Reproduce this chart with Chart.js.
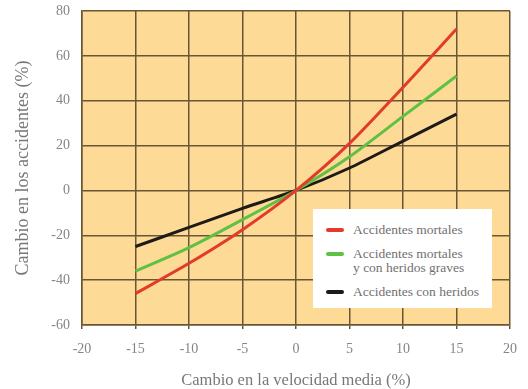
<!DOCTYPE html>
<html>
<head>
<meta charset="utf-8">
<script src="https://cdn.jsdelivr.net/npm/chart.js@4"></script>
<style>
  html, body { margin: 0; padding: 0; background: #fff; }
  #wrap { position: relative; width: 528px; height: 389px; }
  #legend {
    position: absolute; left: 313px; top: 209px; width: 179px; height: 99px;
    background: #fff; box-sizing: border-box; padding: 14px 0 0 13px;
    font-family: "Liberation Serif", serif; font-size: 13.5px; color: #707070;
  }
  .item { display: flex; align-items: flex-start; margin-bottom: 10px; line-height: 14px; }
  .swatch { width: 18px; height: 4px; border-radius: 2px; margin: 5px 9px 0 0; flex: none; }
</style>
</head>
<body>
<div id="wrap">
  <canvas id="chart" width="528" height="389"></canvas>
  <div id="legend"></div>
</div>
<script>
const speedChange = [-15, -10, -5, 0, 5, 10, 15];
const fatal = [-46, -32.5, -17.5, 0, 21, 46, 72];
const fatalSerious = [-36, -25.5, -13, 0, 15, 33, 51];
const injury = [-25, -16.5, -8, 0, 10, 22, 34];
const seriesLabels = [
  "Accidentes mortales",
  "Accidentes mortales\ny con heridos graves",
  "Accidentes con heridos",
];
const seriesColors = ["#e23b2b", "#5fc143", "#1e1a17"];
const xTicks = [-20, -15, -10, -5, 0, 5, 10, 15, 20];
const yTicks = [-60, -40, -20, 0, 20, 40, 60, 80];

const toPoints = (vals) => vals.map((v, i) => ({ x: speedChange[i], y: v }));

const plotBg = {
  id: "plotBg",
  beforeDraw(chart) {
    const { ctx, chartArea: a } = chart;
    ctx.save();
    ctx.fillStyle = "#fddb97";
    ctx.fillRect(a.left, a.top, a.right - a.left, a.bottom - a.top);
    ctx.restore();
  },
};

const tickFont = { family: "'Liberation Serif', serif", size: 14 };
const gridColor = "#6a5634";

new Chart(document.getElementById("chart"), {
  type: "line",
  data: {
    datasets: [fatal, fatalSerious, injury].map((vals, i) => ({
      label: seriesLabels[i],
      data: toPoints(vals),
      borderColor: seriesColors[i],
      borderWidth: 3,
      pointRadius: 0,
      tension: 0.25,
    })),
  },
  options: {
    responsive: false,
    animation: false,
    layout: { padding: { top: 11, right: 18, left: 0, bottom: 0 } },
    plugins: { legend: { display: false }, tooltip: { enabled: false } },
    scales: {
      x: {
        type: "linear",
        min: -20,
        max: 20,
        afterBuildTicks: (s) => { s.ticks = xTicks.map((v) => ({ value: v })); },
        afterFit: (s) => { s.height = 64; s.paddingLeft = 0; s.paddingRight = 0; },
        grid: { color: gridColor, lineWidth: 1.5, tickLength: 4 },
        border: { color: gridColor, width: 1.5 },
        ticks: { font: tickFont, color: "#858585", padding: 12 },
        title: {
          display: true,
          text: "Cambio en la velocidad media (%)",
          font: { family: "'Liberation Serif', serif", size: 16.5, lineHeight: 1 },
          color: "#777",
          padding: { top: 0, bottom: 0 },
        },
      },
      y: {
        min: -60,
        max: 80,
        afterBuildTicks: (s) => { s.ticks = yTicks.map((v) => ({ value: v })); },
        afterFit: (s) => { s.width = 82; s.paddingTop = 0; s.paddingBottom = 0; },
        grid: { color: gridColor, lineWidth: 1.5, tickLength: 0 },
        border: { color: gridColor, width: 1.5 },
        ticks: { font: tickFont, color: "#858585", padding: 12 },
        title: {
          display: true,
          text: "Cambio en los accidentes (%)",
          font: { family: "'Liberation Serif', serif", size: 18 },
          color: "#777",
          padding: { top: 12, bottom: 0 },
        },
      },
    },
  },
  plugins: [plotBg],
});

const legend = document.getElementById("legend");
seriesLabels.forEach((label, i) => {
  const item = document.createElement("div");
  item.className = "item";
  const sw = document.createElement("span");
  sw.className = "swatch";
  sw.style.background = seriesColors[i];
  const txt = document.createElement("span");
  txt.innerHTML = label.replace("\n", "<br>");
  item.appendChild(sw);
  item.appendChild(txt);
  legend.appendChild(item);
});
</script>
</body>
</html>
